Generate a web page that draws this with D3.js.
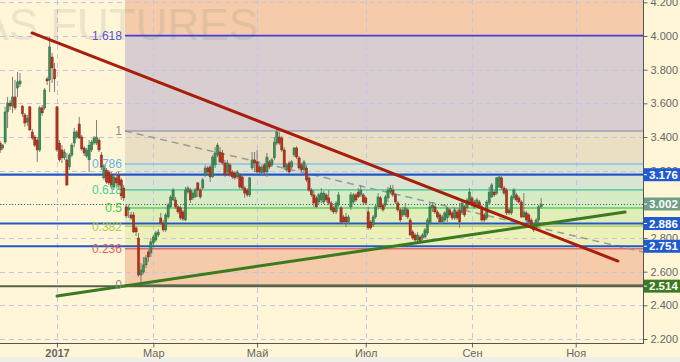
<!DOCTYPE html>
<html><head><meta charset="utf-8">
<script src="https://cdn.jsdelivr.net/npm/d3@7/dist/d3.min.js"></script>
<style>
html,body{margin:0;padding:0;background:#FFF6D8;overflow:hidden;}
svg{display:block;font-family:"Liberation Sans",Arial,sans-serif;}
</style></head><body>
<svg id="chart" width="680" height="362"></svg>
<script>
// ---------- DATA ----------
const firstIndex = -2; // trading-day index of first candle (index 21 = first session of 2017)
// [open, high, low, close]
const candles = [
[3.364,3.376,3.305,3.323],[3.335,3.358,3.323,3.352],[3.370,3.579,3.358,3.549],[3.549,3.638,3.454,3.602],
[3.602,3.620,3.561,3.584],[3.584,3.757,3.543,3.638],[3.638,3.739,3.561,3.573],[3.691,3.786,3.638,3.727],
[3.715,3.780,3.697,3.733],[3.584,3.590,3.519,3.537],[3.531,3.543,3.460,3.483],[3.489,3.531,3.466,3.513],
[3.579,3.584,3.436,3.442],[3.430,3.448,3.382,3.394],[3.400,3.412,3.340,3.352],[3.382,3.400,3.252,3.323],
[3.323,3.584,3.311,3.573],[3.573,3.590,3.525,3.543],[3.573,3.691,3.561,3.679],[3.745,3.757,3.709,3.733],
[3.739,3.994,3.667,3.935],[3.875,3.899,3.721,3.810],[3.804,3.840,3.667,3.745],[3.579,3.584,3.311,3.323],
[3.364,3.382,3.252,3.264],[3.323,3.352,3.246,3.276],[3.276,3.329,3.264,3.311],[3.264,3.305,3.109,3.115],
[3.222,3.305,3.204,3.293],[3.293,3.364,3.281,3.352],[3.364,3.454,3.340,3.430],[3.400,3.442,3.388,3.430],
[3.477,3.519,3.388,3.394],[3.400,3.412,3.317,3.329],[3.335,3.346,3.287,3.305],[3.287,3.335,3.276,3.323],
[3.264,3.382,3.192,3.352],[3.323,3.382,3.311,3.370],[3.364,3.406,3.352,3.394],[3.364,3.501,3.352,3.400],
[3.382,3.394,3.311,3.323],[3.293,3.311,3.204,3.222],[3.157,3.240,3.145,3.228],[3.204,3.216,3.121,3.133],
[3.192,3.204,3.115,3.127],[3.174,3.192,3.091,3.103],[3.103,3.174,3.085,3.163],[3.157,3.192,3.103,3.127],
[3.174,3.198,3.091,3.109],[3.145,3.157,3.026,3.050],[3.097,3.115,3.020,3.038],
[2.985,3.002,2.919,2.931],[2.967,2.996,2.919,2.979],[2.937,2.955,2.907,2.919],[2.937,2.955,2.830,2.836],
[2.860,2.872,2.812,2.836],[2.800,2.830,2.569,2.580],[2.580,2.652,2.533,2.610],[2.598,2.687,2.586,2.640],
[2.640,2.699,2.622,2.682],[2.717,2.729,2.658,2.687],[2.711,2.800,2.687,2.777],[2.770,2.818,2.759,2.806],
[2.788,2.842,2.777,2.830],[2.818,2.854,2.806,2.836],[2.919,2.949,2.877,2.889],[2.889,2.907,2.836,2.848],
[2.848,2.949,2.836,2.937],[2.925,3.008,2.913,2.996],[2.985,3.056,2.979,3.044],[3.026,3.097,3.020,3.085],
[3.026,3.044,2.973,2.985],[2.985,2.996,2.943,2.955],[2.979,2.991,2.907,2.919],[2.955,2.967,2.901,2.913],
[2.907,3.103,2.901,3.085],[3.073,3.109,3.061,3.097],[3.085,3.097,3.008,3.026],[3.038,3.079,3.026,3.067],
[3.044,3.097,3.038,3.085],[3.127,3.133,3.044,3.085],[3.085,3.097,3.032,3.044],[3.097,3.157,3.085,3.145],
[3.174,3.234,3.163,3.216],[3.216,3.228,3.180,3.192],[3.222,3.234,3.133,3.163],[3.163,3.293,3.157,3.281],
[3.234,3.340,3.216,3.305],[3.293,3.364,3.281,3.352],[3.311,3.340,3.246,3.252],[3.305,3.323,3.234,3.246],
[3.246,3.264,3.163,3.174],[3.192,3.264,3.180,3.246],[3.234,3.246,3.163,3.174],[3.192,3.204,3.151,3.163],
[3.186,3.198,3.145,3.157],[3.163,3.204,3.151,3.192],[3.174,3.186,3.091,3.103],[3.163,3.174,3.085,3.097],
[3.097,3.109,3.038,3.067],[3.085,3.097,3.044,3.056],[3.056,3.163,3.044,3.157],[3.216,3.311,3.204,3.264],
[3.264,3.311,3.192,3.246],[3.252,3.323,3.186,3.192],[3.222,3.234,3.180,3.192],[3.186,3.234,3.174,3.222],
[3.234,3.246,3.180,3.192],[3.192,3.305,3.163,3.281],[3.252,3.264,3.210,3.222],[3.234,3.276,3.222,3.264],
[3.276,3.400,3.264,3.370],[3.364,3.454,3.352,3.430],[3.400,3.430,3.352,3.364],[3.394,3.406,3.311,3.323],
[3.323,3.340,3.204,3.222],[3.204,3.246,3.192,3.234],[3.246,3.258,3.180,3.192],[3.222,3.264,3.210,3.252],
[3.293,3.340,3.281,3.335],[3.335,3.346,3.270,3.281],[3.276,3.287,3.204,3.216],[3.234,3.246,3.192,3.204],
[3.204,3.264,3.192,3.252],[3.216,3.234,3.133,3.145],[3.157,3.169,3.073,3.085],[3.085,3.097,3.044,3.056],
[3.056,3.085,2.985,3.008],[3.038,3.050,2.979,2.985],[3.014,3.067,3.002,3.056],[3.026,3.097,3.008,3.067],
[3.014,3.079,3.002,3.067],[3.056,3.067,3.014,3.026],[3.038,3.085,2.996,3.008],[3.008,3.020,2.955,2.967],
[2.979,2.991,2.943,2.955],[2.955,3.020,2.943,3.008],[2.996,3.073,2.985,3.056],[2.979,2.991,2.889,2.895],
[2.925,2.937,2.883,2.895],[2.925,2.949,2.865,2.895],[2.895,2.937,2.883,2.925],[2.985,3.073,2.967,3.056],
[3.014,3.067,3.002,3.056],[3.056,3.067,3.014,3.026],[3.073,3.097,3.038,3.044],[3.056,3.115,3.044,3.085],
[3.056,3.067,3.002,3.014],[3.038,3.050,2.996,3.008],[2.955,2.985,2.848,2.860],[2.895,2.907,2.848,2.860],
[2.877,2.937,2.865,2.925],[2.925,2.996,2.913,2.985],[2.985,3.067,2.967,3.044],[3.038,3.050,2.973,2.985],
[2.996,3.008,2.955,2.967],[2.996,3.056,2.985,3.044],[3.038,3.103,3.014,3.085],[3.073,3.115,3.061,3.097],
[3.085,3.115,3.044,3.056],[3.056,3.067,3.002,3.014],[3.008,3.020,2.955,2.967],[2.967,2.979,2.895,2.907],
[2.937,2.985,2.925,2.967],[2.937,3.008,2.925,2.979],[2.967,2.979,2.913,2.925],[2.907,2.919,2.812,2.818],
[2.836,2.848,2.788,2.800],[2.818,2.830,2.777,2.788],[2.788,2.836,2.777,2.818],[2.806,2.818,2.770,2.777],
[2.800,2.830,2.788,2.818],[2.806,2.860,2.800,2.848],[2.830,2.919,2.818,2.907],[2.889,3.008,2.877,2.985],
[2.979,3.014,2.955,2.996],[2.985,2.996,2.943,2.955],[2.955,2.967,2.913,2.925],[2.937,2.949,2.883,2.895],
[2.895,2.937,2.883,2.925],[2.907,2.961,2.895,2.949],[2.919,2.985,2.895,2.979],[2.967,2.979,2.925,2.937],
[2.949,2.961,2.907,2.919],[2.919,2.979,2.907,2.967],[2.955,2.967,2.907,2.919],[2.967,3.008,2.860,2.895],
[2.949,3.020,2.937,3.008],[2.985,2.996,2.925,2.937],[2.979,3.038,2.967,3.026],[3.014,3.097,3.008,3.073],
[3.038,3.050,2.985,2.996],[3.014,3.026,2.973,2.985],[2.996,3.038,2.985,3.026],[3.014,3.026,2.973,2.985],
[2.985,2.996,2.895,2.907],[2.937,2.949,2.895,2.907],[2.919,3.026,2.907,3.014],[3.008,3.103,2.996,3.073],
[3.044,3.127,3.038,3.115],[3.073,3.085,3.044,3.056],[3.067,3.163,3.056,3.157],[3.103,3.174,3.097,3.163],
[3.157,3.174,3.085,3.097],[3.097,3.109,3.056,3.067],[3.085,3.097,2.937,2.949],[2.967,2.979,2.937,2.949],
[2.949,3.056,2.937,3.044],[3.038,3.097,3.026,3.085],[3.056,3.067,3.014,3.026],[3.038,3.050,3.002,3.014],
[3.014,3.026,2.919,2.925],[2.925,3.067,2.919,2.955],[2.949,2.961,2.895,2.907],[2.937,2.949,2.883,2.895],
[2.907,2.919,2.854,2.865],[2.877,2.889,2.836,2.848],[2.865,2.919,2.854,2.907],[2.907,2.996,2.889,2.985],
[2.985,3.038,2.973,3.002]
];
const monthTickIndex = [21, 60, 102, 146, 189, 231];
const monthLabels = ["2017", "Мар", "Май", "Июл", "Сен", "Ноя"];
const priceTicks = [2.2, 2.4, 2.6, 2.8, 3.0, 3.2, 3.4, 3.6, 3.8, 4.0, 4.2];

const fibLow = 2.520, fibHigh = 3.436, fibStartIndex = 48.5;
const fibRatios = [1.618, 1, 0.786, 0.618, 0.5, 0.382, 0.236, 0];
const fibLabels = ["1.618", "1", "0.786", "0.618", "0.5", "0.382", "0.236", "0"];

const levelValues = [3.176, 2.886, 2.751];   // blue horizontal levels
const supportValue = 2.514;                   // dark green support
const lastPrice = 3.002;
const tagValues = [3.176, 3.002, 2.886, 2.751, 2.514];

const redTrend = [[10.9, 4.018], [248.1, 2.663]];
const greenTrend = [[21, 2.456], [251, 2.954]];
const grayTrend = [[48.5, 3.436], [258.25, 2.717]];

// ---------- STYLE ----------
const fibZoneColors = ["#f6cba9", "#d8cdd1", "#ebdfc3", "#dae4d3", "#d7ecc5", "#e0edb8", "#edf0b9", "#f6cba9"];
const fibLineColors = ["#4040d8", "#a39db8", "#82c2e8", "#62d2a2", "#5ccf5c", "#b7d25e", "#e36a6a", "#6f7565"];
const fibLabelColors = ["#5252d8", "#8e8e8e", "#62b4e4", "#46d09a", "#44cf44", "#a9cc44", "#e06262", "#8e8e8e"];
const tagColors = ["#1f5ad0", "#6e9f85", "#1f5ad0", "#1f5ad0", "#3d7a1f"];

// ---------- SCALES ----------
const PR = 643, PB = 343;
const x = d3.scaleLinear().domain([-2.08, 258.25]).range([0, PR]);
const y = d3.scaleLinear().domain([2.2, 4.0]).range([339, 36]);

const svg = d3.select("#chart");
svg.append("rect").attr("width", 680).attr("height", 362).attr("fill", "#FFF6D8");
svg.append("rect").attr("x", 0).attr("y", 357).attr("width", 680).attr("height", 5).attr("fill", "#efefe6");

svg.append("defs").append("clipPath").attr("id", "clip")
  .append("rect").attr("x", 0).attr("y", 0).attr("width", PR).attr("height", PB);
const plot = svg.append("g").attr("clip-path", "url(#clip)");

// fib zones
const fibPrice = r => fibLow + r * (fibHigh - fibLow);
const x0f = x(fibStartIndex);
const zoneBounds = [y.invert(-5)].concat(fibRatios.map(fibPrice));
plot.append("g").selectAll("rect").data(fibRatios).join("rect")
  .attr("x", x0f).attr("width", PR - x0f)
  .attr("y", (r, k) => y(zoneBounds[k]))
  .attr("height", (r, k) => y(zoneBounds[k + 1]) - y(zoneBounds[k]))
  .attr("fill", (r, k) => fibZoneColors[k]);

// grid
plot.append("g").selectAll("line").data(priceTicks).join("line")
  .attr("x1", 0).attr("x2", PR).attr("y1", d => Math.round(y(d)) + 0.5).attr("y2", d => Math.round(y(d)) + 0.5)
  .attr("stroke", "#c6c4e4").attr("stroke-dasharray", "5,4").attr("stroke-width", 1);
plot.append("g").selectAll("line").data(monthTickIndex).join("line")
  .attr("y1", 0).attr("y2", PB).attr("x1", d => Math.round(x(d)) + 0.5).attr("x2", d => Math.round(x(d)) + 0.5)
  .attr("stroke", "#c6c4e4").attr("stroke-dasharray", "5,4").attr("stroke-width", 1);

// watermark
plot.append("text").attr("x", 258).attr("y", 40).attr("text-anchor", "end")
  .attr("font-size", 44).attr("fill", "#808080").attr("fill-opacity", 0.18)
  .text("GAS FUTURES");

// fib lines & labels
plot.append("g").selectAll("line").data(fibRatios).join("line")
  .attr("x1", x0f).attr("x2", PR)
  .attr("y1", r => y(fibPrice(r))).attr("y2", r => y(fibPrice(r)))
  .attr("stroke", (r, k) => fibLineColors[k]).attr("stroke-width", (r, k) => k === 7 ? 2 : 1.6);
svg.append("g").selectAll("text").data(fibRatios).join("text")
  .attr("x", x0f - 3).attr("y", r => y(fibPrice(r))).attr("dy", "0.36em")
  .attr("text-anchor", "end").attr("font-size", 12)
  .attr("fill", (r, k) => fibLabelColors[k])
  .text((r, k) => fibLabels[k]);

// gray dashed trend
const lineGen = d3.line().x(d => x(d[0])).y(d => y(d[1]));
plot.append("path").attr("d", lineGen(grayTrend)).attr("fill", "none")
  .attr("stroke", "#9a9a9a").attr("stroke-width", 1.5).attr("stroke-dasharray", "7,5");

// horizontal levels
plot.append("line").attr("x1", 0).attr("x2", PR).attr("y1", y(supportValue)).attr("y2", y(supportValue))
  .attr("stroke", "#556148").attr("stroke-width", 2);
plot.append("g").selectAll("line").data(levelValues).join("line")
  .attr("x1", 0).attr("x2", PR).attr("y1", d => y(d)).attr("y2", d => y(d))
  .attr("stroke", "#2358c9").attr("stroke-width", 2.2);
plot.append("line").attr("x1", 0).attr("x2", PR).attr("y1", Math.round(y(lastPrice)) + 0.5).attr("y2", Math.round(y(lastPrice)) + 0.5)
  .attr("stroke", "#5a6a5a").attr("stroke-width", 1).attr("stroke-dasharray", "1,2");

// candles
const cg = plot.append("g").selectAll("g").data(candles).join("g");
cg.append("line")
  .attr("x1", (d, k) => x(firstIndex + k)).attr("x2", (d, k) => x(firstIndex + k))
  .attr("y1", d => y(d[1])).attr("y2", d => y(d[2]))
  .attr("stroke", "#7c7c7c").attr("stroke-width", 1);
cg.append("rect")
  .attr("x", (d, k) => x(firstIndex + k) - 1.15).attr("width", 2.3)
  .attr("y", d => y(Math.max(d[0], d[3])))
  .attr("height", d => Math.max(1, Math.abs(y(d[0]) - y(d[3]))))
  .attr("fill", d => d[3] >= d[0] ? "#3f8b56" : "#b2341f")
  .attr("stroke", d => d[3] >= d[0] ? "#2c6b3d" : "#8a200f").attr("stroke-width", 0.4);

// trend lines
plot.append("path").attr("d", lineGen(greenTrend)).attr("fill", "none")
  .attr("stroke", "#3b7a1d").attr("stroke-width", 3).attr("stroke-linecap", "round");
plot.append("path").attr("d", lineGen(redTrend)).attr("fill", "none")
  .attr("stroke", "#a81e0a").attr("stroke-width", 3).attr("stroke-linecap", "round");

// axes
const yAxis = d3.axisRight(y).tickValues(priceTicks).tickFormat(d3.format(".3f")).tickSize(4).tickPadding(3);
const ya = svg.append("g").attr("transform", `translate(${PR + 0.5},0)`).call(yAxis);
ya.select(".domain").remove();
ya.selectAll("line").attr("stroke", "#666");
ya.selectAll("text").attr("fill", "#666").attr("font-size", 11).attr("font-family", "Liberation Sans, Arial, sans-serif");

const xAxis = d3.axisBottom(x).tickValues(monthTickIndex).tickFormat((d, k) => monthLabels[k]).tickSize(4).tickPadding(2);
const xa = svg.append("g").attr("transform", `translate(0,${PB + 0.5})`).call(xAxis);
xa.select(".domain").remove();
xa.selectAll("line").attr("stroke", "#666");
xa.selectAll("text").attr("fill", "#666").attr("font-size", 11).attr("font-family", "Liberation Sans, Arial, sans-serif")
  .attr("font-weight", (d, k) => k === 0 ? "bold" : "normal");

svg.append("line").attr("x1", 0).attr("x2", PR + 1).attr("y1", PB + 0.5).attr("y2", PB + 0.5).attr("stroke", "#555").attr("stroke-width", 1);
svg.append("line").attr("x1", PR + 0.5).attr("x2", PR + 0.5).attr("y1", 0).attr("y2", PB + 1).attr("stroke", "#555").attr("stroke-width", 1);

// price tags
const tags = svg.append("g").selectAll("g").data(tagValues).join("g")
  .attr("transform", d => `translate(${PR + 1},${y(d)})`);
tags.append("rect").attr("x", 0).attr("y", -6.5).attr("width", 680 - PR).attr("height", 13)
  .attr("fill", (d, k) => tagColors[k]);
tags.append("line").attr("x1", 0).attr("x2", 3).attr("y1", 0).attr("y2", 0).attr("stroke", "#fff");
tags.append("text").attr("x", 5).attr("dy", "0.36em").attr("fill", "#fff")
  .attr("font-size", 11.5).attr("font-weight", "bold")
  .text(d => d3.format(".3f")(d));
</script>
</body></html>
